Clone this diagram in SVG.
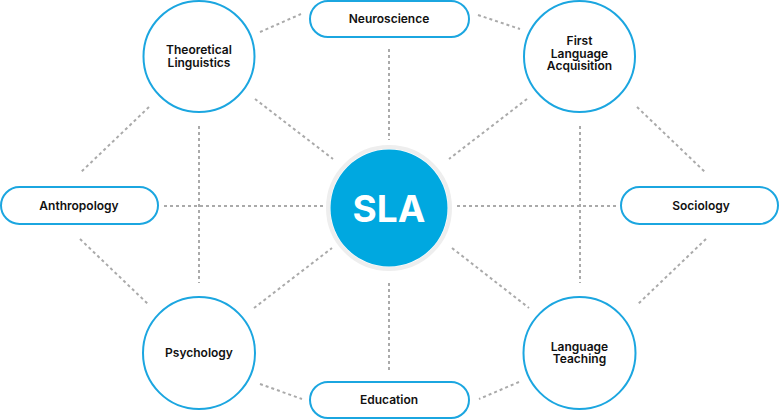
<svg xmlns="http://www.w3.org/2000/svg" width="779" height="419" viewBox="0 0 779 419">
<style>
.node{fill:#fff;stroke:#1ba6e0;stroke-width:2}
.lbl{font-family:Inter,"Liberation Sans",sans-serif;font-weight:600;font-size:12px;fill:#111;text-anchor:middle}
.con line{stroke:#aaa;stroke-width:2;stroke-dasharray:3 3;fill:none}
</style>
<rect width="779" height="419" fill="#fff"/>
<g id="connectors" class="con">
<line x1="260" y1="32" x2="301" y2="14"/>
<line x1="478" y1="15" x2="520" y2="29"/>
<line x1="389" y1="49" x2="389" y2="140"/>
<line x1="255" y1="99" x2="333" y2="159"/>
<line x1="527" y1="99" x2="449" y2="159"/>
<line x1="580" y1="126" x2="580" y2="283"/>
<line x1="199" y1="126" x2="199" y2="283"/>
<line x1="149" y1="107" x2="80" y2="173"/>
<line x1="637" y1="107" x2="706" y2="173"/>
<line x1="457" y1="206" x2="616" y2="206"/>
<line x1="164" y1="206" x2="323" y2="206"/>
<line x1="706" y1="239" x2="637" y2="305"/>
<line x1="452" y1="248" x2="529" y2="308"/>
<line x1="519" y1="382" x2="479" y2="399"/>
<line x1="260" y1="384" x2="302" y2="399"/>
<line x1="254" y1="308" x2="332" y2="248"/>
<line x1="80" y1="239" x2="149" y2="305"/>
<line x1="389" y1="283" x2="389" y2="373"/>
</g>
<g id="sla">
<circle cx="389" cy="208" r="61" fill="none" stroke="#eeeeee" stroke-width="4"/>
<circle cx="389" cy="208" r="58.5" fill="#00a8e0"/>
<text x="389" y="222" font-family="Inter,'Liberation Sans',sans-serif" font-weight="700" font-size="37" fill="#fff" text-anchor="middle">SLA</text>
</g>
<g id="theoretical-linguistics">
<circle class="node" cx="199" cy="56.5" r="55.5"/>
<text class="lbl" x="199" y="54"><tspan x="199" y="54">Theoretical</tspan><tspan x="199" y="66.5">Linguistics</tspan></text>
</g>
<g id="neuroscience">
<rect class="node" x="310" y="1" width="159" height="36" rx="18"/>
<text class="lbl" x="389" y="23">Neuroscience</text>
</g>
<g id="first-language-acquisition">
<circle class="node" cx="579.5" cy="56.5" r="55.5"/>
<text class="lbl" x="579.5" y="45"><tspan x="579.5" y="45">First</tspan><tspan x="579.5" y="57.5">Language</tspan><tspan x="579.5" y="70">Acquisition</tspan></text>
</g>
<g id="anthropology">
<rect class="node" x="1" y="187" width="157" height="37" rx="18.5"/>
<text class="lbl" x="79" y="210">Anthropology</text>
</g>
<g id="sociology">
<rect class="node" x="621" y="187" width="157" height="37" rx="18.5"/>
<text class="lbl" x="701" y="210">Sociology</text>
</g>
<g id="psychology">
<circle class="node" cx="199" cy="353" r="56"/>
<text class="lbl" x="199" y="357">Psychology</text>
</g>
<g id="language-teaching">
<circle class="node" cx="579.5" cy="353" r="56"/>
<text class="lbl" x="579.5" y="350.5"><tspan x="579.5" y="350.5">Language</tspan><tspan x="579.5" y="363">Teaching</tspan></text>
</g>
<g id="education">
<rect class="node" x="310" y="382" width="159" height="36" rx="18"/>
<text class="lbl" x="389" y="404">Education</text>
</g>
</svg>
